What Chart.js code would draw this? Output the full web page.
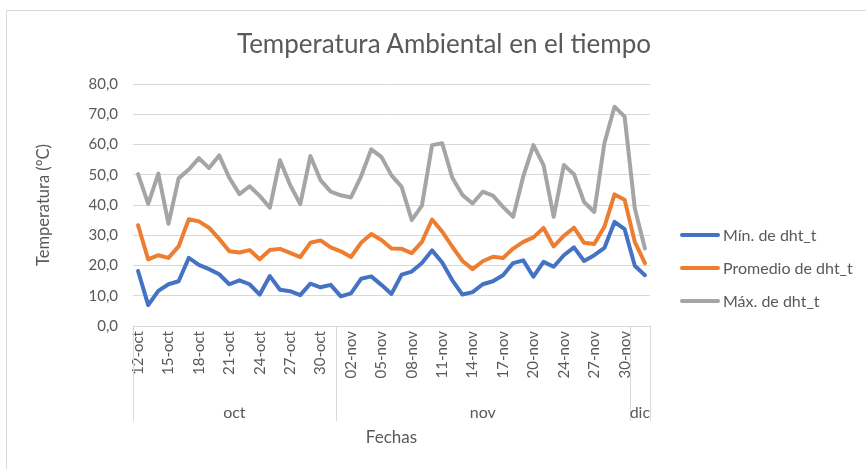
<!DOCTYPE html>
<html lang="es">
<head>
<meta charset="utf-8">
<title>Temperatura Ambiental en el tiempo</title>
<script src="https://cdn.jsdelivr.net/npm/chart.js@4.4.1/dist/chart.umd.min.js"></script>
<style>
  html, body { margin: 0; background: #fff; }
  #panel { position: relative; width: 866px; height: 469px; overflow: hidden; font-family: Lato, "Open Sans", sans-serif; color: #595959; }
  #marco { position: absolute; left: 6px; top: 10px; right: -10px; bottom: -10px; border-left: 1px solid #d9d9d9; border-top: 1px solid #d9d9d9; }
  #grafico { position: absolute; left: 0; top: 0; }
  #titulo { position: absolute; left: 0; top: 28px; width: 888px; text-align: center; font-size: 26px; line-height: 30px; }
  #leyenda { position: absolute; left: 680px; top: 218px; margin: 0; padding: 0; list-style: none; font-size: 16px; }
  #leyenda li { display: flex; align-items: center; height: 33px; }
  #leyenda .linea { width: 40px; height: 4px; border-radius: 2px; margin-right: 3px; }
</style>
</head>
<body>
<div id="panel">
  <div id="marco"></div>
  <canvas id="grafico" width="866" height="469"></canvas>
  <div id="titulo">Temperatura Ambiental en el tiempo</div>
  <ul id="leyenda"></ul>
</div>
<script>
  // dias con lectura del sensor dht (falta el 22-nov)
  var fechas = [
    "12-oct", "13-oct", "14-oct", "15-oct", "16-oct", "17-oct", "18-oct", "19-oct", "20-oct", "21-oct",
    "22-oct", "23-oct", "24-oct", "25-oct", "26-oct", "27-oct", "28-oct", "29-oct", "30-oct", "31-oct",
    "01-nov", "02-nov", "03-nov", "04-nov", "05-nov", "06-nov", "07-nov", "08-nov", "09-nov", "10-nov",
    "11-nov", "12-nov", "13-nov", "14-nov", "15-nov", "16-nov", "17-nov", "18-nov", "19-nov", "20-nov",
    "21-nov", "23-nov", "24-nov", "25-nov", "26-nov", "27-nov", "28-nov", "29-nov", "30-nov",
    "01-dic", "02-dic"
  ];
  var meses = ["oct", "nov", "dic"];

  var minimos = [
    18.2, 6.9, 11.6, 13.8, 14.8, 22.5, 20.2, 18.8, 17.1, 13.8,
    15.1, 13.8, 10.4, 16.5, 12.0, 11.5, 10.2, 14.0, 12.8, 13.6,
    9.8, 10.8, 15.6, 16.4, 13.6, 10.6, 17.0, 18.0, 20.8, 25.0,
    21.0, 15.1, 10.4, 11.2, 13.8, 14.8, 16.8, 20.8, 21.7, 16.3,
    21.2, 19.6, 23.4, 26.0, 21.5, 23.4, 25.8, 34.4, 32.0, 19.9,
    16.8
  ];
  var promedios = [
    33.3, 22.0, 23.4, 22.5, 26.3, 35.3, 34.6, 32.5, 28.8, 24.7,
    24.3, 25.1, 22.1, 25.1, 25.5, 24.2, 22.8, 27.5, 28.3, 26.0,
    24.7, 22.8, 27.5, 30.4, 28.4, 25.6, 25.5, 24.1, 27.8, 35.2,
    31.2, 26.2, 21.5, 18.8, 21.4, 22.9, 22.5, 25.6, 27.8, 29.3,
    32.4, 26.3, 29.8, 32.5, 27.5, 27.1, 32.8, 43.5, 41.7, 27.8,
    20.8
  ];
  var maximos = [
    50.2, 40.4, 50.4, 33.8, 48.8, 51.7, 55.5, 52.2, 56.4, 49.0,
    43.6, 46.2, 43.0, 39.1, 54.8, 46.6, 40.3, 56.2, 48.2, 44.4,
    43.2, 42.5, 49.5, 58.4, 55.9, 49.8, 46.0, 35.0, 39.8, 59.8,
    60.4, 49.0, 43.3, 40.5, 44.4, 43.1, 39.4, 36.1, 49.5, 59.8,
    53.2, 36.1, 53.2, 50.2, 41.0, 37.7, 60.4, 72.5, 69.2, 38.9,
    25.6
  ];
  var marcasY = [0, 10, 20, 30, 40, 50, 60, 70, 80];

  var GRIS_TEXTO = "#595959";
  var GRIS_LINEA = "#d9d9d9";
  var FUENTE = "Lato, 'Open Sans', sans-serif";

  Chart.defaults.font.family = FUENTE;
  Chart.defaults.color = GRIS_TEXTO;

  function serie(nombre, valores, color) {
    return {
      label: nombre,
      data: valores,
      borderColor: color,
      backgroundColor: color,
      borderWidth: 4,
      pointRadius: 0,
      borderJoinStyle: "round",
      borderCapStyle: "round",
      fill: false,
      tension: 0
    };
  }

  // segundo nivel del eje x: separadores y nombre del mes
  var gruposFechas = {
    id: "gruposFechas",
    afterDraw: function (chart) {
      var eje = chart.scales.x;
      var ctx = chart.ctx;
      var paso = eje.getPixelForValue(1) - eje.getPixelForValue(0);
      var arriba = eje.top;
      var abajo = eje.top + 95;
      function separador(px) {
        var xr = Math.round(px) + 0.5;
        ctx.beginPath();
        ctx.moveTo(xr, arriba);
        ctx.lineTo(xr, abajo);
        ctx.stroke();
      }
      ctx.save();
      ctx.strokeStyle = GRIS_LINEA;
      ctx.lineWidth = 1;
      ctx.fillStyle = GRIS_TEXTO;
      ctx.font = "16px " + FUENTE;
      ctx.textAlign = "center";
      ctx.textBaseline = "middle";
      var inicio = 0;
      var x1 = eje.left;
      meses.forEach(function (mes) {
        var n = fechas.filter(function (f) { return f.split("-")[1] === mes; }).length;
        var x0 = eje.getPixelForValue(inicio) - paso / 2;
        x1 = eje.getPixelForValue(inicio + n - 1) + paso / 2;
        separador(x0);
        ctx.fillText(mes, (x0 + x1) / 2, arriba + 87);
        inicio += n;
      });
      separador(x1);
      ctx.restore();
    }
  };

  var grafico = new Chart(document.getElementById("grafico"), {
    type: "line",
    data: {
      labels: fechas,
      datasets: [
        serie("Mín. de dht_t", minimos, "#4472C4"),
        serie("Promedio de dht_t", promedios, "#ED7D31"),
        serie("Máx. de dht_t", maximos, "#A5A5A5")
      ]
    },
    options: {
      responsive: false,
      animation: false,
      layout: { padding: { left: 0, right: 216, top: 84, bottom: 0 } },
      plugins: {
        legend: { display: false },
        title: { display: false },
        tooltip: { enabled: false }
      },
      scales: {
        x: {
          offset: true,
          grid: { display: false, drawTicks: false },
          border: { display: true, color: GRIS_LINEA },
          ticks: {
            autoSkip: false,
            minRotation: 90,
            maxRotation: 90,
            padding: 5,
            font: { size: 15 },
            callback: function (valor, i) { return i % 3 === 0 ? this.getLabelForValue(valor) : ""; }
          },
          title: { display: true, text: "Fechas", font: { size: 17 }, padding: { top: 0, bottom: 21 } },
          afterFit: function (escala) { escala.height = 143; }
        },
        y: {
          min: marcasY[0],
          max: marcasY[marcasY.length - 1],
          ticks: {
            stepSize: marcasY[1] - marcasY[0],
            padding: 15,
            font: { size: 15 },
            callback: function (valor) { return valor.toFixed(1).replace(".", ","); }
          },
          grid: { color: GRIS_LINEA, drawTicks: false },
          border: { display: false },
          title: { display: true, text: "Temperatura (°C)", font: { size: 16.5 }, padding: { top: 34, bottom: 0 } },
          afterFit: function (escala) { escala.width = 133; }
        }
      }
    },
    plugins: [gruposFechas]
  });

  // leyenda en html a la derecha del grafico
  var leyenda = document.getElementById("leyenda");
  leyenda.innerHTML = grafico.data.datasets.map(function (ds) {
    return '<li><span class="linea" style="background:' + ds.borderColor + '"></span>' + ds.label + "</li>";
  }).join("");
</script>
</body>
</html>
